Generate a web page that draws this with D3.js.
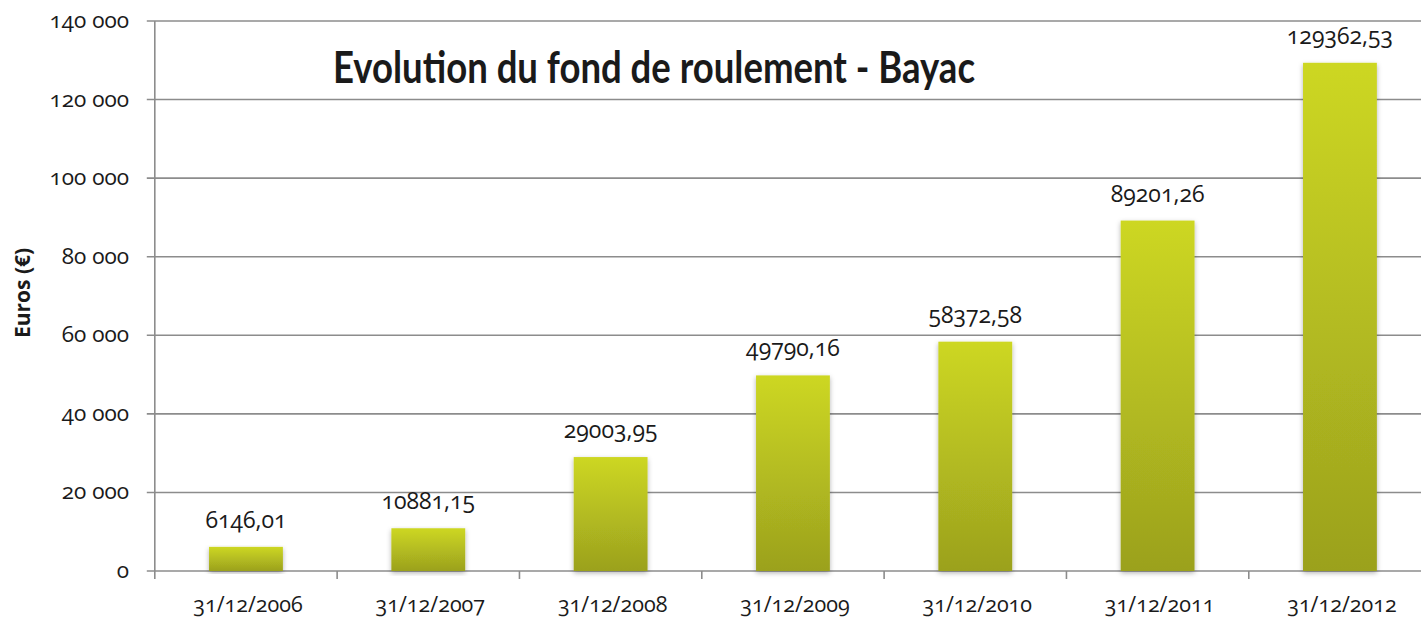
<!DOCTYPE html>
<html><head><meta charset="utf-8">
<script src="https://cdn.jsdelivr.net/npm/d3@7"></script>
<style>
body{margin:0;background:#fff;}
svg text{font-family:"Open Sans","Lato",sans-serif;font-variant-numeric:oldstyle-nums;font-feature-settings:"onum" 1;fill:#1a1a1a;}
svg text.title{font-family:"Lato","Open Sans",sans-serif;}
</style></head><body>
<svg id="c" width="1421" height="618"></svg>
<script>
const categories = ["31/12/2006","31/12/2007","31/12/2008","31/12/2009","31/12/2010","31/12/2011","31/12/2012"];
const values = [6146.01,10881.15,29003.95,49790.16,58372.58,89201.26,129362.53];
const labels = ["6146,01","10881,15","29003,95","49790,16","58372,58","89201,26","129362,53"];
const yTicks = [0,20000,40000,60000,80000,100000,120000,140000];
const yTickLabels = ["0","20 000","40 000","60 000","80 000","100 000","120 000","140 000"];
const title = "Evolution du fond de roulement - Bayac";
const yTitle = "Euros (€)";

const svg = d3.select("#c");
const L = 154.8, T = 21, B = 571, band = 182.33;
const R = L + band*categories.length;
const x = d3.scaleBand().domain(categories).range([L,R]).paddingInner(0.595).paddingOuter(0.2975);
const y = d3.scaleLinear().domain([0,140000]).range([B,T]);

const defs = svg.append("defs");
const g = defs.append("linearGradient").attr("id","bg").attr("x1",0).attr("y1",0).attr("x2",0).attr("y2",1);
g.append("stop").attr("offset","0%").attr("stop-color","#cdd723");
g.append("stop").attr("offset","100%").attr("stop-color","#9ba11e");
const f = defs.append("filter").attr("id","sh").attr("x","-20%").attr("y","-5%").attr("width","140%").attr("height","115%");
f.append("feDropShadow").attr("dx",0).attr("dy",2).attr("stdDeviation",2.5).attr("flood-color","#000").attr("flood-opacity",0.3);

// gridlines
svg.append("g").selectAll("line").data(yTicks).join("line")
  .attr("x1",L-8).attr("x2",R).attr("y1",d=>y(d)).attr("y2",d=>y(d))
  .attr("stroke","#8c8c8c").attr("stroke-width",1.6);
// y axis line
svg.append("line").attr("x1",L).attr("x2",L).attr("y1",T).attr("y2",B+8).attr("stroke","#8c8c8c").attr("stroke-width",1.6);
// x ticks at band boundaries
svg.append("g").selectAll("line").data(d3.range(1,categories.length)).join("line")
  .attr("x1",i=>L+i*band).attr("x2",i=>L+i*band).attr("y1",B).attr("y2",B+8)
  .attr("stroke","#8c8c8c").attr("stroke-width",1.6);

// y tick labels
svg.append("g").selectAll("text").data(yTicks).join("text")
  .attr("x",129).attr("y",d=>y(d)+7).attr("text-anchor","end").attr("font-size",22.5)
  .text((d,i)=>yTickLabels[i]);

// bars
svg.append("g").selectAll("rect").data(values).join("rect")
  .attr("x",(d,i)=>x(categories[i])).attr("width",x.bandwidth())
  .attr("y",d=>y(d)).attr("height",d=>B-y(d))
  .attr("fill","url(#bg)").attr("filter","url(#sh)");

// value labels
svg.append("g").selectAll("text").data(values).join("text")
  .attr("x",(d,i)=>x(categories[i])+x.bandwidth()/2).attr("y",d=>y(d)-19)
  .attr("text-anchor","middle").attr("font-size",23)
  .text((d,i)=>labels[i]);

// x labels
svg.append("g").selectAll("text").data(categories).join("text")
  .attr("x",d=>x(d)+x.bandwidth()/2+2).attr("y",612)
  .attr("text-anchor","middle").attr("font-size",21.5)
  .text(d=>d);

// title
svg.append("text").attr("class","title").attr("x",333).attr("y",83).attr("text-anchor","start")
  .attr("font-size",43).attr("font-weight","bold")
  .attr("textLength",642).attr("lengthAdjust","spacingAndGlyphs").text(title);

// y title
svg.append("text").attr("transform","translate(30,293) rotate(-90)").attr("text-anchor","middle")
  .attr("font-size",21).attr("font-weight","bold").text(yTitle);
</script>
</body></html>
